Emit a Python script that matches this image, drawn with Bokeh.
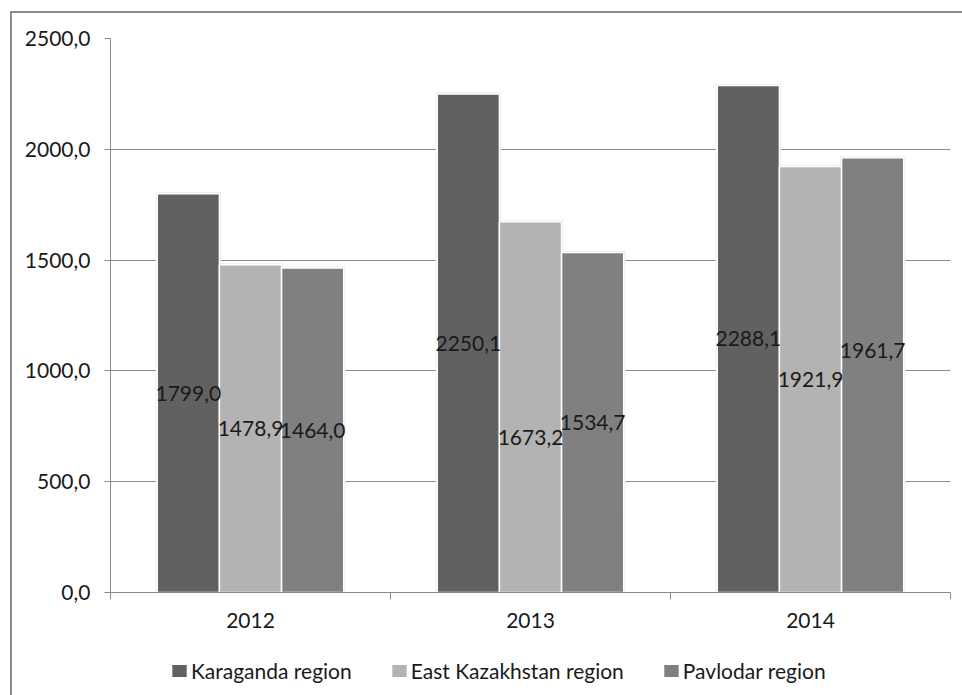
from bokeh.plotting import figure
from bokeh.layouts import column
from bokeh.models import (FixedTicker, Legend, LegendItem, ColumnDataSource,
                          InlineStyleSheet)
from bokeh.core.properties import value
from bokeh.embed import file_html
from bokeh.resources import INLINE

# ---- data -------------------------------------------------------------
years = ["2012", "2013", "2014"]
series_names = ["Karaganda region", "East Kazakhstan region", "Pavlodar region"]
karaganda = [1799.0, 2250.1, 2288.1]
east_kazakhstan = [1478.9, 1673.2, 1921.9]
pavlodar = [1464.0, 1534.7, 1961.7]
y_ticks = [0, 500, 1000, 1500, 2000, 2500]
y_tick_labels = ["0,0", "500,0", "1000,0", "1500,0", "2000,0", "2500,0"]

# ---- styling ----------------------------------------------------------
series_values = [karaganda, east_kazakhstan, pavlodar]
series_colors = ["#616161", "#b3b3b3", "#808080"]
bar_offsets = [-0.222, 0.0, 0.222]      # position of each bar within a year slot
bar_width = 0.222
# a couple of value labels were dragged off the bar centre (screen px, + = down)
label_shift = [[0, 0, 0], [0, 30, 0], [0, 0, -25]]
FONT = "Lato"
TEXT = "#1a1a1a"
GRID = "#8a8a8a"
W = 962
CHART_H = 645
LEGEND_H = 50

p = figure(width=W, height=CHART_H, output_backend="svg", toolbar_location=None,
           x_range=(0, len(years)), y_range=(0, 2500),
           min_border_left=110, min_border_right=12,
           min_border_top=38, min_border_bottom=53)
p.outline_line_color = None
p.background_fill_color = "white"
p.border_fill_color = "white"

p.xgrid.grid_line_color = None
p.ygrid.ticker = FixedTicker(ticks=y_ticks)
p.ygrid.grid_line_color = GRID
p.ygrid.grid_line_width = 1.2

sources = []
for k, vals in enumerate(series_values):
    xs = [i + 0.5 + bar_offsets[k] for i in range(len(years))]
    sources.append(ColumnDataSource(dict(
        x=xs, top=vals, mid=[v / 2 for v in vals],
        glow_top=[v + 7 for v in vals],
        label=[f"{v:.1f}".replace(".", ",") for v in vals],
        shift=label_shift[k])))

# soft edge shadow behind the bars
for src in sources:
    p.vbar(x="x", top="glow_top", width=bar_width + 0.012, source=src,
           fill_color="#ebebeb", line_color=None)

renderers = []
for k, src in enumerate(sources):
    renderers.append(p.vbar(x="x", top="top", width=bar_width, source=src,
                            fill_color=series_colors[k], line_color="white",
                            line_width=1.5))

# value labels on top of everything
for src in sources:
    p.text(x="x", y="mid", text="label", source=src, y_offset="shift",
           text_font=value(FONT), text_font_size="21px", text_color=TEXT,
           text_align="center", text_baseline="middle")

# y axis
p.yaxis.ticker = FixedTicker(ticks=y_ticks)
p.yaxis.major_label_overrides = {t: lab for t, lab in zip(y_ticks, y_tick_labels)}
p.yaxis.axis_line_color = GRID
p.yaxis.major_tick_line_color = GRID
p.yaxis.major_tick_in = 0
p.yaxis.major_tick_out = 6
p.yaxis.minor_tick_line_color = None
p.yaxis.major_label_standoff = 14
p.yaxis.major_label_text_font = FONT
p.yaxis.major_label_text_font_size = "21px"
p.yaxis.major_label_text_color = TEXT

# x axis: labels at slot centres, ticks at slot boundaries
p.xaxis.ticker = FixedTicker(ticks=[i + 0.5 for i in range(len(years))],
                             minor_ticks=list(range(len(years) + 1)))
p.xaxis.major_label_overrides = {i + 0.5: y for i, y in enumerate(years)}
p.xaxis.axis_line_color = GRID
p.xaxis.major_tick_line_color = None
p.xaxis.major_tick_in = 0
p.xaxis.major_tick_out = 0
p.xaxis.minor_tick_line_color = GRID
p.xaxis.minor_tick_in = 0
p.xaxis.minor_tick_out = 7
p.xaxis.major_label_standoff = 13
p.xaxis.major_label_text_font = FONT
p.xaxis.major_label_text_font_size = "21px"
p.xaxis.major_label_text_color = TEXT

# legend strip underneath (its frame lines up with the chart frame)
leg_fig = figure(width=W, height=LEGEND_H, output_backend="svg",
                 toolbar_location=None, x_range=(10, 11), y_range=(10, 11),
                 min_border=0, x_axis_location=None, y_axis_location=None)
leg_fig.outline_line_color = None
for g in leg_fig.xgrid + leg_fig.ygrid:
    g.visible = False
leg_fig.background_fill_color = None
leg_fig.border_fill_color = None
# swatch renderers sit outside the visible range; only their legend keys show
swatches = [leg_fig.vbar(x=[0], top=[1], width=0.1, fill_color=c,
                         line_color=None)
            for c in series_colors]
legend = Legend(items=[LegendItem(label=n, renderers=[r])
                       for n, r in zip(series_names, swatches)],
                location=(60, 12), orientation="horizontal",
                glyph_width=18, glyph_height=15, label_standoff=3,
                padding=0, margin=0, spacing=38,
                border_line_color=None, background_fill_alpha=0,
                label_text_font=FONT, label_text_font_size="21px",
                label_text_color=TEXT)
leg_fig.add_layout(legend)

layout = column(p, leg_fig, spacing=0)
# outer chart border (open to the right and bottom edges of the page)
layout.stylesheets = [InlineStyleSheet(css="""
:host { position: relative; background: white; }
:host::after {
  content: ""; position: absolute; pointer-events: none;
  left: 10px; top: 11px; right: -20px; bottom: -20px;
  border: 2px solid #8c8c8c;
}
""")]

open("out.html", "w").write(file_html(layout, INLINE))
